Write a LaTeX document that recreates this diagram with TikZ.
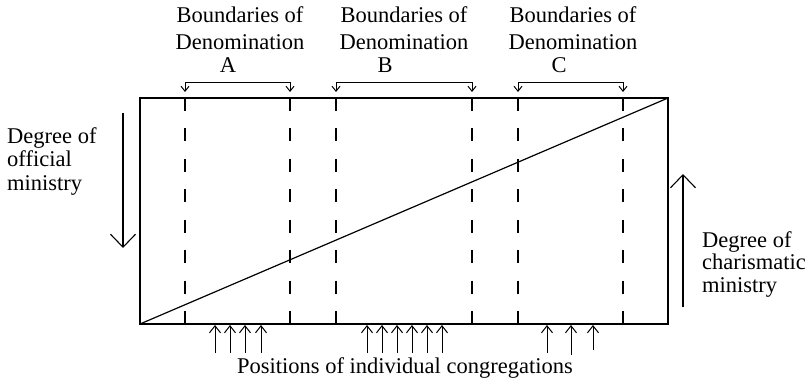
\documentclass[tikz,border=0pt]{standalone}
\usepackage{fontspec}
\setmainfont{Liberation Serif}
\usetikzlibrary{arrows.meta}
\begin{document}
\begin{tikzpicture}[x=1pt,y=-1pt,
  line/.style={line width=1.2pt},
  dashline/.style={line width=1.1pt, dash pattern=on 13pt off 17.43pt},
  lbl/.style={inner sep=0pt, anchor=base, font=\fontsize{22.5}{25}\selectfont},
  lbll/.style={lbl, anchor=base west},
  bigtip/.style={-{Straight Barb[length=13pt,width=25pt,line width=1.1pt]}},
  smalltip/.style={-{Straight Barb[length=7pt,width=11pt,line width=1pt]}},
  brtip/.style={{Straight Barb[length=5pt,width=8pt,line width=1pt]}-{Straight Barb[length=5pt,width=8pt,line width=1pt]}}]
\useasboundingbox (0,0) rectangle (811,380);
% frame
\coordinate (TL) at (140,98);
\coordinate (TR) at (668,98);
\coordinate (BR) at (668,324);
\coordinate (BL) at (140,324);
\draw[line] (TL) -- (TR) -- (BR) -- (BL) -- cycle;
\draw[line] (BL) -- (TR);
% dashed boundaries
\foreach \n/\x in {a1/185,a2/290,b1/336,b2/472,c1/518,c2/623}{
  \coordinate (\n t) at (\x,98);
  \coordinate (\n b) at (\x,324);
  \draw[dashline] (\n t) -- (\n b);
}
% brackets
\foreach \l/\r in {a1/a2,b1/b2,c1/c2}{
  \draw[line width=1pt, brtip] ([yshift=6pt]\l t) -- ([yshift=16pt]\l t) -| ([yshift=6pt]\r t);
}
% top labels
\node[lbl] (labA1) at (240,23) {Boundaries of};
\node[lbl] (labA2) at (240,49) {Denomination};
\node[lbl] (letA) at (228,72) {A};
\node[lbl] (labB1) at (404,23) {Boundaries of};
\node[lbl] (labB2) at (404,49) {Denomination};
\node[lbl] (letB) at (385,72) {B};
\node[lbl] (labC1) at (573,23) {Boundaries of};
\node[lbl] (labC2) at (573,49) {Denomination};
\node[lbl] (letC) at (559,72) {C};
% side labels
\node[lbll] (off1) at (7,143) {Degree of};
\node[lbll] (off2) at (7,166) {official};
\node[lbll] (off3) at (7,190) {ministry};
\node[lbll] (cha1) at (702,247) {Degree of};
\node[lbll] (cha2) at (702,269) {charismatic};
\node[lbll] (cha3) at (702,292) {ministry};
\coordinate (offS) at (123,113);
\coordinate (offE) at (123,248);
\draw[line width=1.1pt, bigtip] (offS) -- (offE);
\coordinate (chaS) at (683,307);
\coordinate (chaE) at (683,174);
\draw[line width=1.1pt, bigtip] (chaS) -- (chaE);
% congregation arrows
\foreach \x/\y in {215/353,230/353,245/353,261/353,367/353,382/353,397/353,412/353,427/353,442/353,547/353,571/355,593/350}{
  \coordinate (p\x) at (\x,\y);
  \coordinate (q\x) at (\x,325);
  \draw[line width=1pt, smalltip] (p\x) -- (q\x);
}
\node[lbl] (pos) at (405,373) {Positions of individual congregations};
\end{tikzpicture}
\end{document}
